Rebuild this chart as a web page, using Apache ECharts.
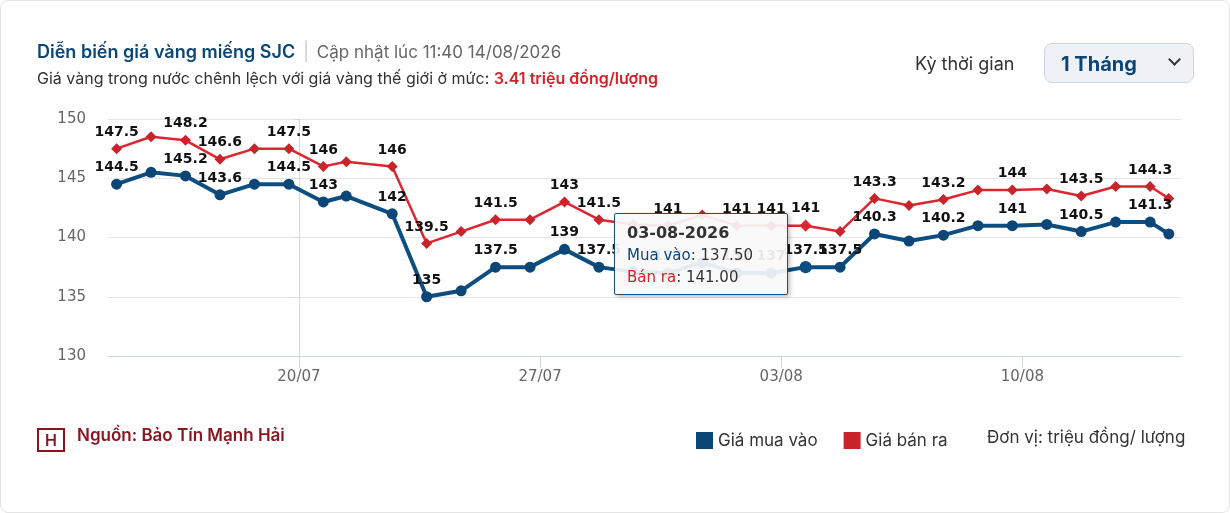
<!DOCTYPE html>
<html>
<head>
<meta charset="utf-8">
<script src="https://cdn.jsdelivr.net/npm/echarts@6/dist/echarts.min.js"></script>
<style>
  body{margin:0;background:#fff;font-family:Inter,"Noto Sans",sans-serif;}
  #card{position:absolute;left:0;top:0;width:1228px;height:511px;border:1px solid #e4e4e4;border-radius:8px;overflow:hidden;}
  #chart{position:absolute;left:0;top:0;width:1230px;height:470px;}
  .t1{position:absolute;left:36px;top:40px;font-size:18px;color:#0b4677;font-weight:600;}
  .t1 .up{color:#666;font-weight:400;font-size:17px;}
  .t1 .sep{color:#bbb;font-weight:300;margin:0 8px;}
  .t2{position:absolute;left:36px;top:67px;font-size:16px;color:#333;}
  .t2 b{color:#d2232a;font-weight:600;}
  .period{position:absolute;left:914px;top:52px;font-size:18px;color:#333;}
  .sel{position:absolute;left:1043px;top:42px;width:150px;height:40px;border:1px solid #cdd6df;border-radius:8px;background:#eef2f6;box-sizing:border-box;}
  .sel span{position:absolute;left:16px;top:8px;font-size:20px;font-weight:700;color:#0b4677;}
  .sel i{position:absolute;right:14px;top:11px;width:7px;height:7px;border-right:2px solid #333;border-bottom:2px solid #333;transform:rotate(45deg);}
  .src{position:absolute;left:36px;top:424px;font-size:17px;color:#8a1620;font-weight:600;}
  .logo{display:inline-block;width:28px;height:24px;border:2px solid #8a1620;box-sizing:border-box;vertical-align:-5px;margin-right:12px;font-size:16px;line-height:20px;text-align:center;}
  .unit{position:absolute;left:986px;top:426px;font-size:17px;color:#333;}
</style>
</head>
<body>
<div id="card">
  <div id="chart"></div>
  <div class="t1">Diễn biến giá vàng miếng SJC<span class="sep">|</span><span class="up">Cập nhật lúc 11:40 14/08/2026</span></div>
  <div class="t2">Giá vàng trong nước chênh lệch với giá vàng thế giới ở mức: <b>3.41 triệu đồng/lượng</b></div>
  <div class="period">Kỳ thời gian</div>
  <div class="sel"><span>1 Tháng</span><i></i></div>
  <div class="src"><span class="logo">H</span>Nguồn: Bảo Tín Mạnh Hải</div>
  <div class="unit">Đơn vị: triệu đồng/ lượng</div>
</div>
<script>
var dates = ['2026-07-14 17:00','2026-07-15 17:00','2026-07-16 17:00','2026-07-17 17:00','2026-07-18 17:00',
  '2026-07-19 17:00','2026-07-20 17:00','2026-07-21 09:00','2026-07-22 17:00','2026-07-23 17:00',
  '2026-07-24 17:00','2026-07-25 17:00','2026-07-26 17:00','2026-07-27 17:00','2026-07-28 17:00',
  '2026-07-29 17:00','2026-07-30 17:00','2026-07-31 17:00','2026-08-01 17:00','2026-08-02 17:00',
  '2026-08-03 17:00','2026-08-04 17:00','2026-08-05 17:00','2026-08-06 17:00','2026-08-07 17:00',
  '2026-08-08 17:00','2026-08-09 17:00','2026-08-10 17:00','2026-08-11 17:00','2026-08-12 17:00',
  '2026-08-13 17:00','2026-08-14 06:00'];
var buyList = [144.5,145.5,145.2,143.6,144.5,144.5,143,143.5,142,135,135.5,137.5,137.5,139,137.5,
  137.1,137.0,137.9,137.0,137.0,137.5,137.5,140.3,139.7,140.2,141,141,141.1,140.5,141.3,141.3,140.3];
var sellList = [147.5,148.5,148.2,146.6,147.5,147.5,146,146.4,146,139.5,140.5,141.5,141.5,143,141.5,
  141.1,141.0,141.9,141,141,141,140.5,143.3,142.7,143.2,144,144,144.1,143.5,144.3,144.3,143.3];
var tickDates = ['2026-07-20','2026-07-27','2026-08-03','2026-08-10'];

var DAY = 86400000;
var base = new Date('2026-07-20T00:00').getTime();
// x in days from 20/07
function dx(s){ return (new Date(s.replace(' ','T')).getTime() - base) / DAY; }
var tickX = tickDates.map(function(d){ return dx(d + ' 00:00'); });
function pair(list){ return list.map(function(v,i){ return [dx(dates[i]), v]; }); }
function pad(n){ return (n<10?'0':'')+n; }
function toDate(x){ return new Date(base + Math.round(x*DAY)); }

var chart = echarts.init(document.getElementById('chart'));
var lbl = {show:true, position:'top', distance:4, color:'#111', fontWeight:'bold',
  fontFamily:'DejaVu Sans', fontSize:14};
chart.setOption({
  animation:false,
  grid:{left:107, top:118, width:1073, height:237},
  tooltip:{
    trigger:'axis', alwaysShowContent:true,
    backgroundColor:'rgba(248,249,250,0.92)', borderColor:'#1b4f7c', borderWidth:1.5,
    padding:[8,12], axisPointer:{type:'none'},
    position:[613,212],
    extraCssText:'width:148px;height:64px;border-radius:2px;box-shadow:2px 2px 4px rgba(0,0,0,0.25);',
    textStyle:{fontFamily:'DejaVu Sans', fontSize:15, color:'#333'},
    formatter:function(p){
      var d = toDate(p[0].value[0]);
      return '<div style="font-weight:bold;font-size:16px;line-height:22px">'+pad(d.getDate())+'-'+pad(d.getMonth()+1)+'-'+d.getFullYear()+'</div>'+
        '<div style="line-height:22px"><span style="color:#0b4677">Mua vào</span>: '+p[0].value[1].toFixed(2)+'</div>'+
        '<div style="line-height:22px"><span style="color:#d2232a">Bán ra</span>: '+p[1].value[1].toFixed(2)+'</div>';
    }
  },
  legend:{left:690, top:426, itemWidth:17, itemHeight:17, itemGap:26, icon:'rect',
    textStyle:{fontSize:17, color:'#333', fontFamily:'Inter'},
    data:['Giá mua vào','Giá bán ra']},
  xAxis:{
    type:'value', min:dx('2026-07-14 11:00'), max:dx('2026-08-14 14:30'),
    axisLine:{lineStyle:{color:'#cfd8e3'}},
    axisTick:{show:true, customValues:tickX, length:12, lineStyle:{color:'#cfd8e3'}},
    axisLabel:{customValues:tickX, color:'#666', fontSize:15, fontFamily:'DejaVu Sans', margin:14,
      formatter:function(v){ var d=toDate(v); return pad(d.getDate())+'/'+pad(d.getMonth()+1); }},
    splitLine:{show:false}
  },
  yAxis:{
    type:'value', min:130, max:150, interval:5,
    axisLine:{show:true, lineStyle:{color:'#cfd8e3'}},
    axisLabel:{color:'#666', fontSize:15, fontFamily:'DejaVu Sans', margin:22},
    splitLine:{lineStyle:{color:'#e3e7ec'}}
  },
  series:[
    {name:'Giá mua vào', type:'line', data:pair(buyList), color:'#0b4677',
      symbol:'circle', symbolSize:11, lineStyle:{width:4},
      label:lbl, labelLayout:{hideOverlap:true}, z:3},
    {name:'Giá bán ra', type:'line', data:pair(sellList), color:'#c9232b',
      symbol:'diamond', symbolSize:11, lineStyle:{width:2.5},
      label:lbl, labelLayout:{hideOverlap:true}, z:2}
  ]
});
chart.dispatchAction({type:'showTip', seriesIndex:0, dataIndex:20});
chart.dispatchAction({type:'highlight', seriesIndex:[0,1], dataIndex:20});
</script>
</body>
</html>
